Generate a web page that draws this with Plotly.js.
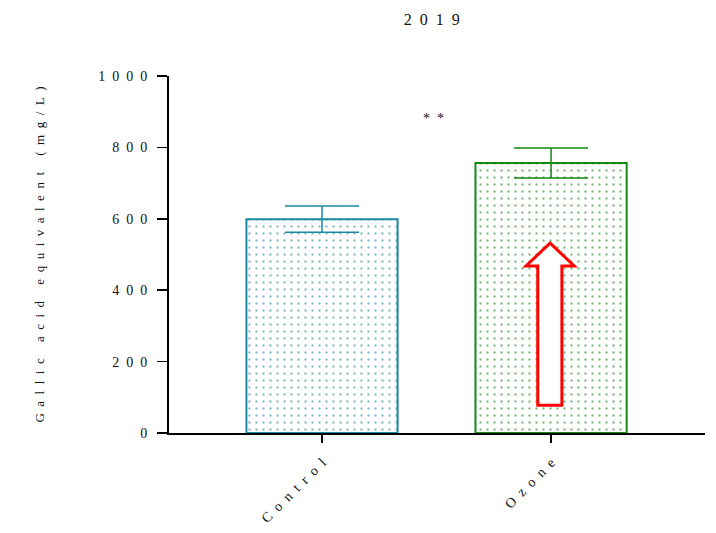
<!DOCTYPE html>
<html><head><meta charset="utf-8">
<script src="https://cdn.plot.ly/plotly-3.0.1.min.js"></script>
<style>body{margin:0;padding:0;background:#fff}</style>
</head><body>
<div id="chart" style="width:716px;height:533px"></div>
<script>
const categories = ["Control", "Ozone"];
const means = [599, 756];
const errors = [37, 42];
const yTicks = [0, 200, 400, 600, 800, 1000];
const significance = "**";
const sigLevel = 882;
const arrowY = [78, 468, 532]; // shaft bottom, head base, tip (data units)
const titleText = "2019";
const yTitle = "Gallic acid equivalent (mg/L)";

const sp = s => String(s).split("").join("\u2002");
const colors = ["#1a8aa3", "#118a11"];
const dotColors = ["#137d97", "#0a7a0a"];

const traces = categories.map((c, i) => ({
  type: "bar",
  x: [c], y: [means[i]],
  width: 0.66,
  marker: {
    color: "#ffffff",
    line: {color: colors[i], width: 2},
    pattern: {shape: ".", fgcolor: dotColors[i], bgcolor: "#ffffff", size: 7, solidity: 0.09, fillmode: "overlay"}
  },
  error_y: {type: "data", array: [errors[i]], visible: true, color: colors[i], thickness: 1.5, width: 37},
  hoverinfo: "skip", showlegend: false
}));

const ax0 = 0.688, ax1 = 0.733, hx0 = 0.666, hx1 = 0.756, tx = 0.711;
const path = `M ${ax0},${arrowY[0]} L ${ax1},${arrowY[0]} L ${ax1},${arrowY[1]} L ${hx1},${arrowY[1]} L ${tx},${arrowY[2]} L ${hx0},${arrowY[1]} L ${ax0},${arrowY[1]} Z`;

const layout = {
  width: 716, height: 533,
  margin: {l: 169, r: 11, t: 76, b: 100},
  paper_bgcolor: "#fff", plot_bgcolor: "#fff",
  font: {family: "Liberation Serif, DejaVu Serif, serif", color: "#111", size: 14},
  title: {text: sp(titleText), x: 0.49, xref: "paper", xanchor: "center", y: 0.975, yanchor: "top", font: {size: 16}},
  bargap: 0.34,
  xaxis: {
    type: "category", range: [-0.668, 1.672],
    categoryorder: "array", categoryarray: categories,
    tickvals: categories, ticktext: categories.map(sp),
    tickangle: -45, ticks: "outside", ticklen: 8, tickwidth: 1.5, tickcolor: "#000",
    showline: true, linecolor: "#000", linewidth: 2, showgrid: false, zeroline: false,
    tickfont: {size: 14}, ticklabelstandoff: 6
  },
  yaxis: {
    range: [0, 1000], tickvals: yTicks, ticktext: yTicks.map(sp),
    ticks: "outside", ticklen: 10, tickwidth: 1.5, tickcolor: "#000",
    showline: true, linecolor: "#000", linewidth: 2, showgrid: false, zeroline: false,
    title: {text: sp(yTitle), font: {size: 13}, standoff: 51},
    tickfont: {size: 14}, ticklabelstandoff: 7
  },
  annotations: [{
    x: 0.485, xref: "x", y: sigLevel, yref: "y", text: sp(significance),
    showarrow: false, font: {size: 14}
  }],
  shapes: [{
    type: "path", xref: "paper", yref: "y", path: path,
    line: {color: "#ff0000", width: 3}, fillcolor: "#ffffff"
  }]
};

Plotly.newPlot("chart", traces, layout, {displayModeBar: false, staticPlot: true});
</script>
</body></html>
